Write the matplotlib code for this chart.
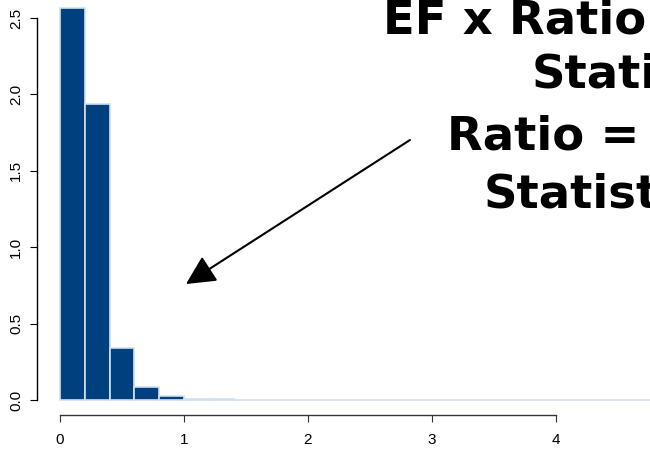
import matplotlib
matplotlib.use("Agg")
import matplotlib.pyplot as plt

# Histogram of EF x ratio statistic (density scale), bin width 0.2
bin_lefts = [0.0, 0.2, 0.4, 0.6, 0.8, 1.0, 1.2, 1.4, 1.6, 1.8, 2.0, 2.2,
             2.4, 2.6, 2.8, 3.0, 3.2, 3.4, 3.6, 3.8, 4.0, 4.2, 4.4, 4.6]
density = [2.565, 1.937, 0.342, 0.085, 0.026, 0.008, 0.006, 0.003, 0.002,
           0.002, 0.001, 0.001, 0.001, 0.0005, 0.0005, 0.0004, 0.0003, 0.0003,
           0.0002, 0.0002, 0.0001, 0.0001, 0.0001, 0.0001]
bin_width = 0.2
x_ticks = [0, 1, 2, 3, 4]
y_ticks = [0.0, 0.5, 1.0, 1.5, 2.0, 2.5]
title_lines = ["EF x Ratio Statistic", "Statistic", "Ratio = EF x", "Statistic"]

W, H = 650, 449
fig = plt.figure(figsize=(W / 100, H / 100), dpi=100)
fig.patch.set_facecolor("white")

ax = fig.add_axes([37 / W, (H - 415) / H, (W - 37) / W, 415 / H])
ax.set_xlim(-0.185, 4.758)
ax.set_ylim(-0.098, 2.618)

ax.bar(bin_lefts, density, width=bin_width, align="edge",
       color="#00407f", edgecolor="#d3e0ee", linewidth=1.2, zorder=2)

for s in ("top", "right"):
    ax.spines[s].set_visible(False)
ax.spines["left"].set_bounds(0, 2.5)
ax.spines["bottom"].set_bounds(0, 4)
ax.spines["left"].set_linewidth(1.0)
ax.spines["bottom"].set_linewidth(1.0)
ax.spines["bottom"].set_color("#333333")

ax.set_xticks(x_ticks)
ax.set_xticklabels([str(v) for v in x_ticks])
ax.set_yticks(y_ticks)
ax.set_yticklabels([f"{v:.1f}" for v in y_ticks], rotation=90, va="center")
ax.tick_params(axis="both", direction="out", length=5, width=0.8,
               labelsize=11)
ax.tick_params(axis="x", pad=8, colors="#333333", labelcolor="black")
ax.tick_params(axis="y", pad=5)
for lab in ax.get_xticklabels() + ax.get_yticklabels():
    lab.set_family("Liberation Sans")

# Pointer arrow towards the tail of the distribution
ax.annotate("", xy=(1.016, 0.759), xytext=(2.823, 1.702),
            arrowprops=dict(arrowstyle="-|>,head_length=1.8,head_width=0.9",
                            mutation_scale=10, color="black", lw=1.5,
                            shrinkA=0, shrinkB=0))

# Heading text (runs past the right edge of the canvas)
positions = [(383, 33), (532, 88), (447, 150), (484, 208)]
for (px, py), line in zip(positions, title_lines):
    fig.text(px / W, 1 - py / H, line, ha="left", va="baseline",
             fontsize=33.5, fontweight="bold", family="DejaVu Sans",
             color="black")

fig.savefig("out.png", dpi=100)
